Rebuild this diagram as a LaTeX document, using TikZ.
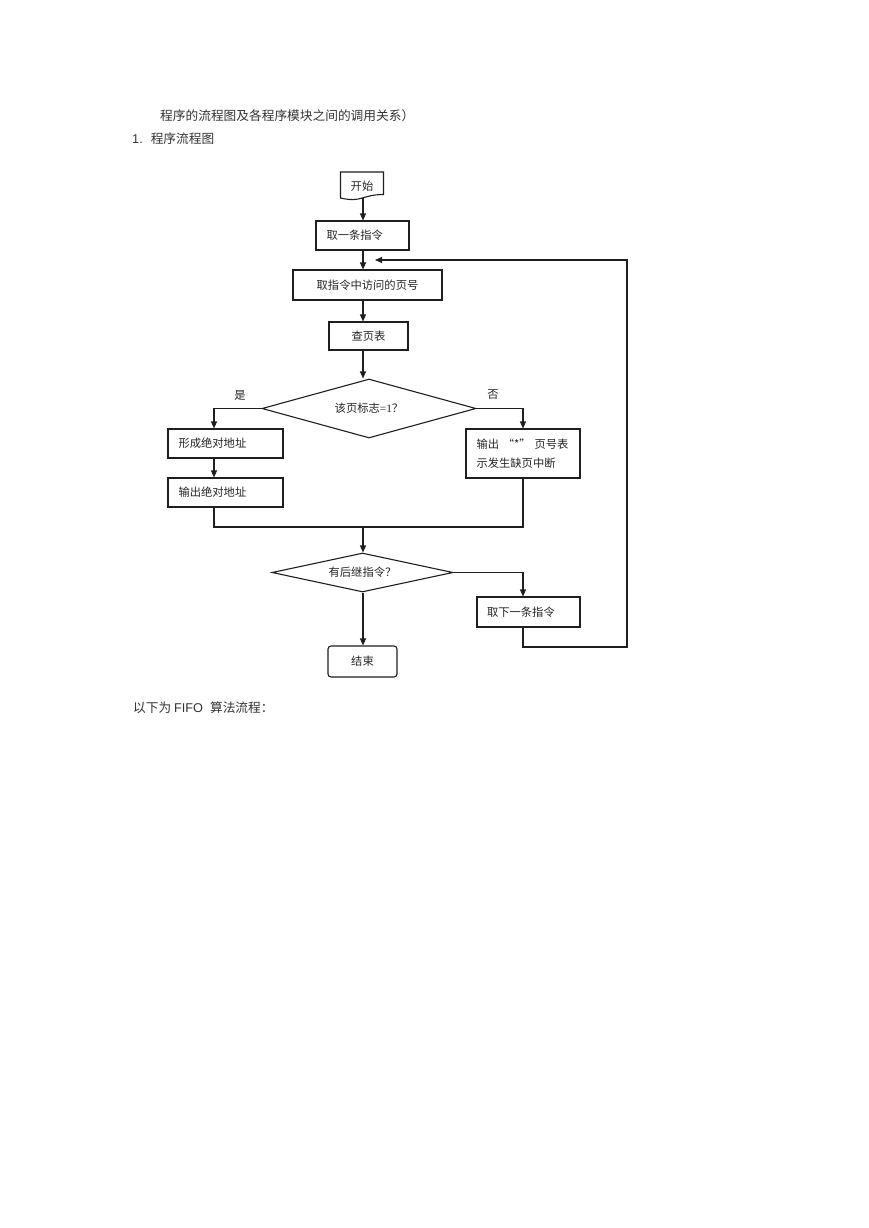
\documentclass[tikz,border=0pt]{standalone}
\usepackage{fontspec}
\setmainfont{Liberation Sans}
\newfontfamily\cjk{Noto Sans CJK SC}
\newfontfamily\serifnum{Liberation Serif}
\usetikzlibrary{arrows.meta,shapes.geometric}
\begin{document}
\begin{tikzpicture}[x=1pt,y=-1pt,
  conn/.style={line width=1.1pt,draw=black!88},
  arr/.style={conn,-{Triangle[length=7pt,width=6pt]}},
  fbox/.style={rectangle,draw=black!88,line width=1.1pt,inner sep=0pt,
    font=\cjk\fontsize{11.3}{13}\selectfont,text=black!85},
  lbox/.style={fbox,align=left,inner xsep=10.5pt},
  fdia/.style={diamond,draw=black!88,line width=1.1pt,inner sep=0pt,
    font=\cjk\fontsize{11.3}{13}\selectfont,text=black!85},
  head/.style={anchor=west,inner sep=0pt,font=\cjk\fontsize{12.7}{15}\selectfont,text=black!80},
  lab/.style={inner sep=0pt,font=\cjk\fontsize{11.3}{13}\selectfont,text=black!85}
]
\fill[white] (0,0) rectangle (869,1228);
\useasboundingbox (0,0) rectangle (869,1228);

% header texts
\node[head] (h1) at (160,116) {程序的流程图及各程序模块之间的调用关系）};
\node[head] (h2) at (132,139) {{\rmfamily 1.}\hspace{8pt}程序流程图};
\node[head] (h3) at (133,708) {以下为 {\rmfamily FIFO}\hspace{7pt}算法流程：};

% helper coordinates
\coordinate (axis) at (363,0);
\coordinate (leftx) at (214,0);
\coordinate (rightx) at (523,0);
\coordinate (startbot) at (363,198);
\coordinate (merge) at (363,527);
\coordinate (loopc) at (627,647);
\coordinate (loopend) at (375,260);

% start (document shape)
\draw[conn,fill=white] (340.5,172) -- (383.5,172) -- (383.5,194.5)
  .. controls (362,194.5) and (362,203) .. (340.5,198) -- cycle;
\node[lab,minimum width=43pt,minimum height=28pt] (start) at (362,186) {开始};

% boxes
\node[lbox,text width=72pt,minimum height=29pt] (b1) at (362.5,235.5) {取一条指令};
\node[fbox,minimum width=149pt,minimum height=30pt] (b2) at (367.5,285) {取指令中访问的页号};
\node[fbox,minimum width=79pt,minimum height=28pt] (b3) at (368.5,336) {查页表};
\node[fdia,minimum width=214pt,minimum height=59pt,shape aspect=3.6] (d1) at (369,408.5)
  {该页标志{\serifnum =1}？};
\node[lab] (yes) at (240,395) {是};
\node[lab] (no) at (493,395) {否};
\node[lbox,text width=94pt,minimum height=29pt] (b4) at (225.5,443.5) {形成绝对地址};
\node[lbox,text width=94pt,minimum height=29pt] (b5) at (225.5,492.5) {输出绝对地址};
\node[lbox,text width=93pt,minimum height=49pt,inner xsep=10.5pt,
  font=\cjk\fontsize{11.3}{19.5}\selectfont] (b6) at (523,453.5)
  {输出 “*” 页号表\\示发生缺页中断};
\node[fdia,minimum width=181pt,minimum height=39pt,shape aspect=4.6] (d2) at (362.5,572.5)
  {有后继指令？};
\node[lbox,text width=83pt,inner xsep=10pt,minimum height=30pt] (b7) at (528.5,612) {取下一条指令};
\node[fbox,rounded corners=3pt,minimum width=69pt,minimum height=31pt] (end) at (362.5,661.5) {结束};

% connectors
\draw[arr] (startbot) -- (b1.north -| axis);
\draw[arr] (b1.south -| axis) -- (b2.north -| axis);
\draw[arr] (b2.south -| axis) -- (b3.north -| axis);
\draw[arr] (b3.south -| axis) -- (d1.north -| axis);
\draw[arr] (d1.west) -| (b4.north -| leftx);
\draw[arr] (b4.south -| leftx) -- (b5.north -| leftx);
\draw[arr] (d1.east) -| (b6.north -| rightx);
\draw[conn] (b5.south -| leftx) |- (merge) -| (b6.south -| rightx);
\draw[arr] (merge) -- (d2.north -| axis);
\draw[arr] (d2.east) -| (b7.north -| rightx);
\draw[arr] (d2.south -| axis) -- (end.north -| axis);
\draw[arr] (b7.south -| rightx) |- (loopc) |- (loopend);
\end{tikzpicture}
\end{document}
